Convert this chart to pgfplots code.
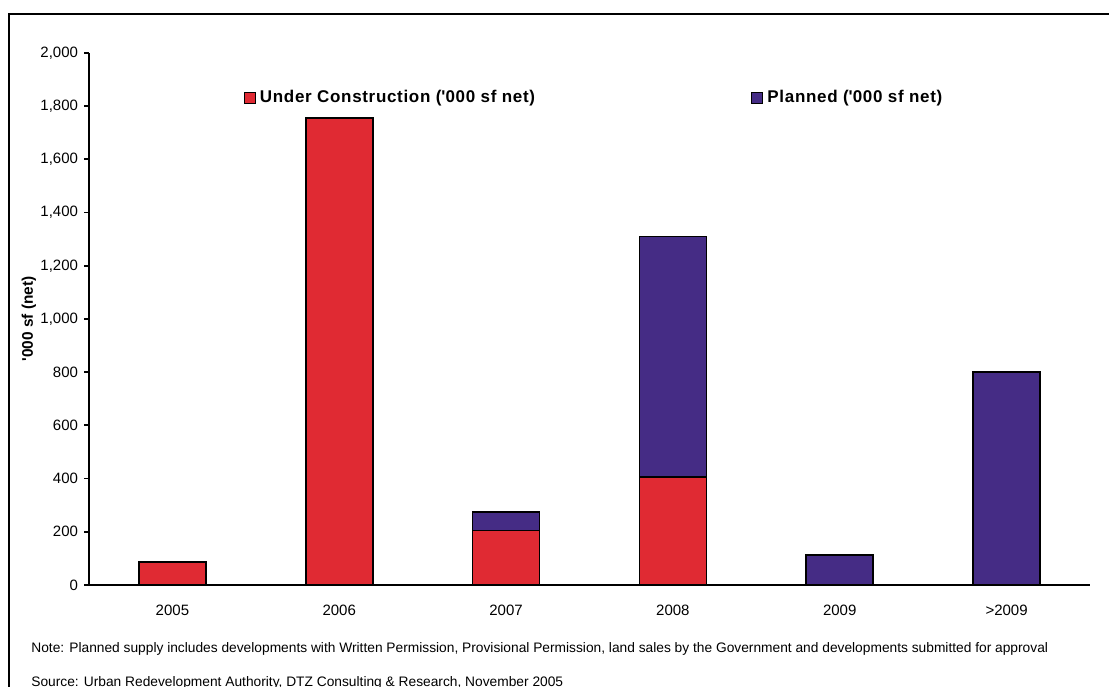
\documentclass[border=0pt]{standalone}
\usepackage{pgfplots}
\pgfplotsset{compat=1.18}
\usepackage{fontspec}
\setmainfont{Liberation Sans}
\definecolor{ucred}{RGB}{224,42,51}
\definecolor{plpurple}{RGB}{69,44,133}
\begin{document}
\begin{tikzpicture}
\useasboundingbox (0pt,0pt) rectangle (554.5pt,343pt);
\draw[line width=1pt] (4.5pt,-5pt) -- (4.5pt,336pt) -- (560pt,336pt);
\begin{axis}[
  at={(44.5pt,50.5pt)}, anchor=south west,
  scale only axis, width=500.5pt, height=266pt,
  ybar stacked, bar width=33.5pt,
  xmin=-0.5, xmax=5.5, ymin=0, ymax=2000,
  axis lines*=left,
  axis line style={line width=0.9pt,-},
  xtick={0,1,2,3,4,5},
  xticklabels={2005,2006,2007,2008,2009,>2009},
  x tick style={draw=none},
  ytick={0,200,...,2000},
  tick align=outside,
  y tick style={line width=0.9pt, black},
  major tick length=2.5pt,
  /pgf/number format/assume math mode=true,
  /pgf/number format/.cd, 1000 sep={,}, /pgfplots/.cd,
  tick label style={font=\fontsize{7.5}{9}\selectfont},
  x tick label style={inner sep=0pt, yshift=-7.5pt},
  y tick label style={inner sep=0pt, xshift=-2.8pt},
  ylabel={\textquotesingle000 sf (net)},
  ylabel style={at={(axis description cs:-0.06,0.5)}, anchor=center, font=\bfseries\fontsize{7.7}{9}\selectfont},
  legend columns=2,
  legend style={at={(axis description cs:0.154,0.915)}, anchor=west, draw=none, fill=none, inner sep=0pt,
    font=\bfseries\fontsize{8.5}{10}\selectfont\addfontfeature{LetterSpace=4},
    /tikz/every even column/.style={column sep=106pt}},
  legend image code/.code={\draw[#1, draw=black, line width=0.6pt] (0pt,-2.8pt) rectangle (5.6pt,2.8pt);},
  every axis plot/.append style={draw=black, line width=0.8pt},
]
\addplot[fill=ucred] coordinates {(0,86) (1,1755) (2,205) (3,405) (4,0) (5,0)};
\addlegendentry{Under Construction (\textquotesingle000 sf net)}
\addplot[fill=plpurple] coordinates {(0,0) (1,0) (2,70) (3,905) (4,112) (5,800)};
\addlegendentry{Planned (\textquotesingle000 sf net)}
\end{axis}
\node[anchor=base west, inner sep=0pt, font=\fontsize{6.88}{8}\selectfont] at (15.5pt,16.5pt) {Note: Planned supply includes developments with Written Permission, Provisional Permission, land sales by the Government and developments submitted for approval};
\node[anchor=base west, inner sep=0pt, font=\fontsize{6.88}{8}\selectfont] at (15.5pt,0pt) {Source: Urban Redevelopment Authority, DTZ Consulting \& Research, November 2005};
\end{tikzpicture}
\end{document}
